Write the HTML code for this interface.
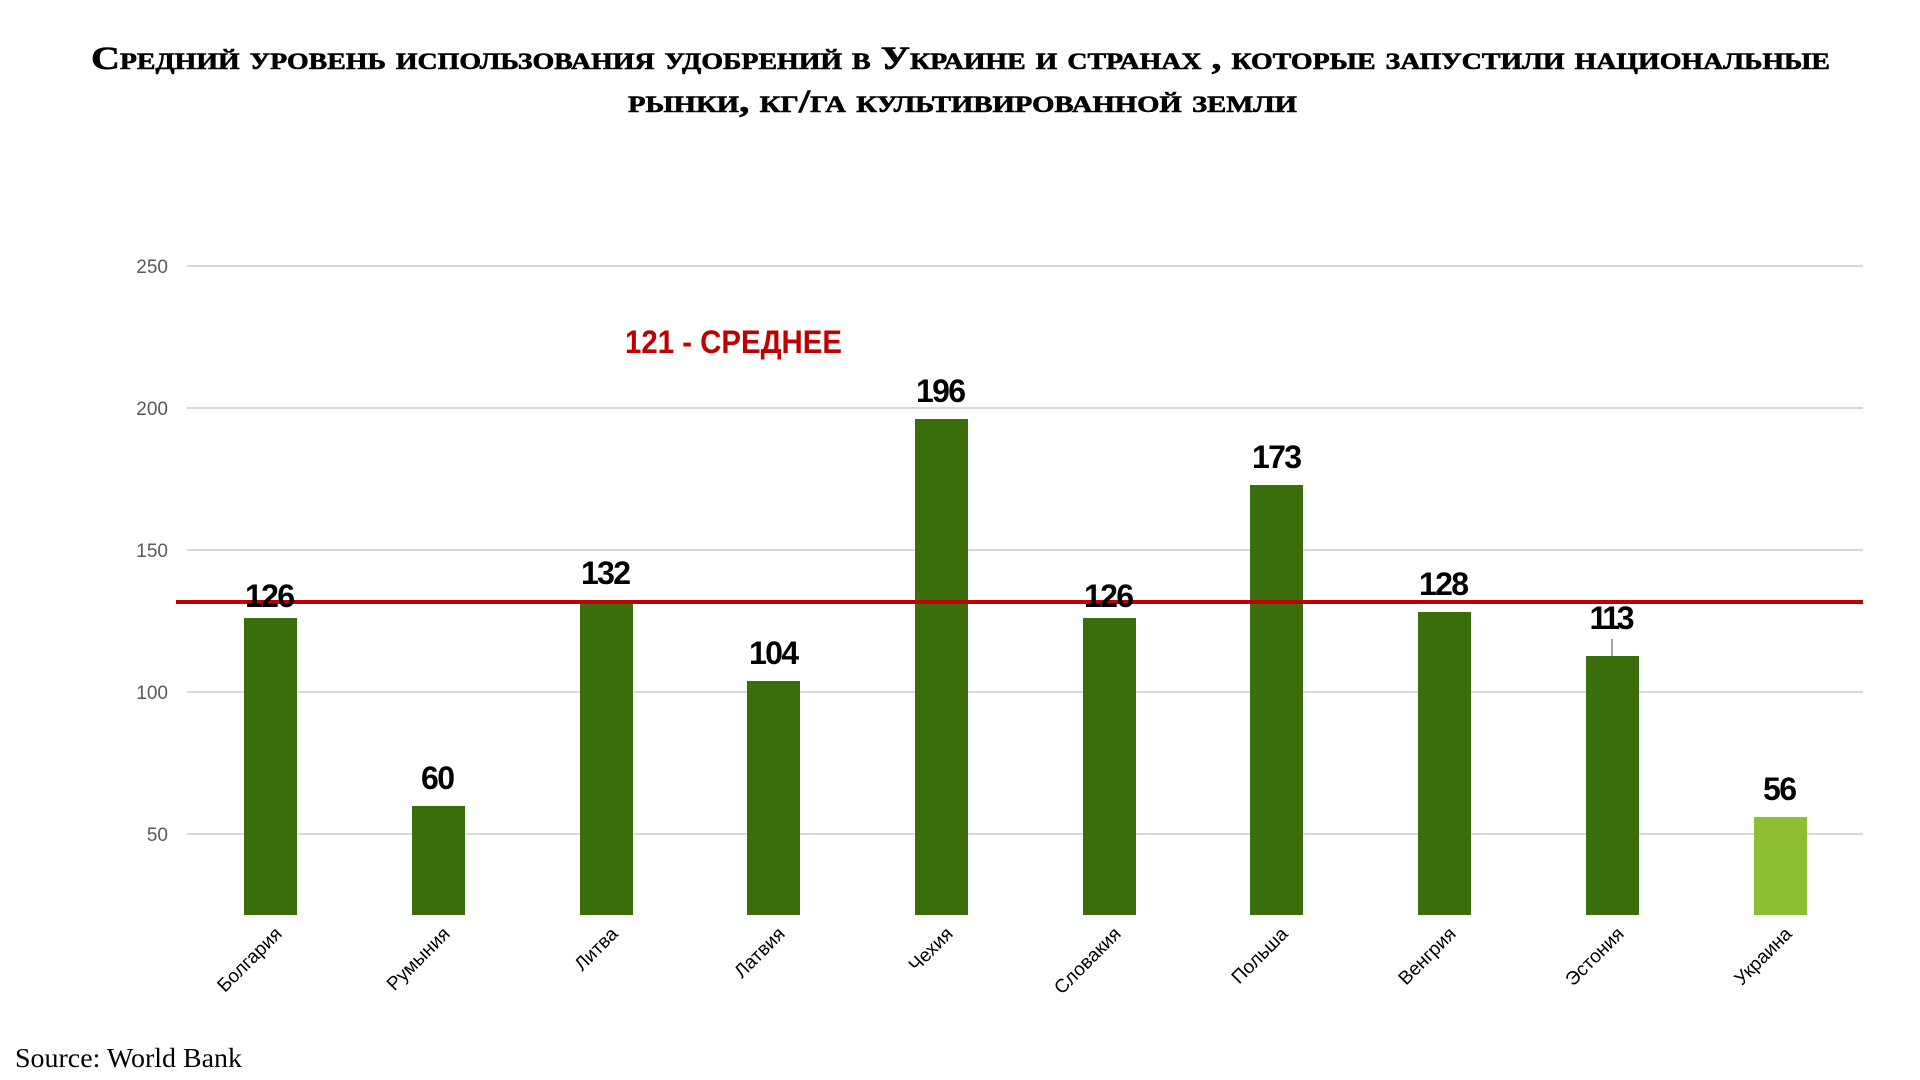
<!DOCTYPE html>
<html><head><meta charset="utf-8"><style>
html,body{margin:0;padding:0;background:#fff;width:1920px;height:1080px;overflow:hidden}
</style></head><body>
<svg width="1920" height="1080" viewBox="0 0 1920 1080" xmlns="http://www.w3.org/2000/svg">
<g font-family="Liberation Serif, serif" font-weight="bold" fill="#000" style="font-variant:small-caps" stroke="#000" stroke-width="0.6">
<text x="91" y="69" font-size="33" textLength="1739" lengthAdjust="spacingAndGlyphs">Средний уровень использования удобрений в Украине и  странах , которые запустили национальные</text>
<text x="628" y="112" font-size="33" textLength="669" lengthAdjust="spacingAndGlyphs">рынки,  кг/га культивированной земли</text>
</g>
<g stroke="#d9d9d9" stroke-width="2">
<line x1="187" y1="266" x2="1863" y2="266"/>
<line x1="187" y1="408" x2="1863" y2="408"/>
<line x1="187" y1="550" x2="1863" y2="550"/>
<line x1="187" y1="692" x2="1863" y2="692"/>
<line x1="187" y1="834" x2="1863" y2="834"/>
</g>
<g font-family="Liberation Sans, sans-serif" font-size="19" fill="#595959" text-anchor="end">
<text x="168" y="273">250</text>
<text x="168" y="415">200</text>
<text x="168" y="557">150</text>
<text x="168" y="699">100</text>
<text x="168" y="841">50</text>
</g>
<g fill="#3a6e0c">
<rect x="244" y="618" width="53" height="297"/>
<rect x="412" y="806" width="53" height="109"/>
<rect x="580" y="601" width="53" height="314"/>
<rect x="747" y="681" width="53" height="234"/>
<rect x="915" y="419" width="53" height="496"/>
<rect x="1083" y="618" width="53" height="297"/>
<rect x="1250" y="485" width="53" height="430"/>
<rect x="1418" y="612" width="53" height="303"/>
<rect x="1586" y="656" width="53" height="259"/>
</g>
<rect x="1754" y="817" width="53" height="98" fill="#8dbf35"/>
<line x1="1612" y1="639" x2="1612" y2="656" stroke="#a6a6a6" stroke-width="2"/>
<line x1="176" y1="602" x2="1863" y2="602" stroke="#c00000" stroke-width="4"/>
<text x="625" y="353" font-family="Liberation Sans, sans-serif" font-weight="bold" font-size="32" fill="#c00000" textLength="217" lengthAdjust="spacingAndGlyphs">121 - СРЕДНЕЕ</text>
<g font-family="Liberation Sans, sans-serif" font-weight="bold" font-size="32" fill="#000" text-anchor="middle" lengthAdjust="spacingAndGlyphs">
<text x="270" y="607" textLength="50">126</text>
<text x="438" y="789" textLength="34">60</text>
<text x="606" y="584" textLength="50">132</text>
<text x="774" y="664" textLength="50">104</text>
<text x="941" y="402" textLength="50">196</text>
<text x="1109" y="607" textLength="50">126</text>
<text x="1277" y="468" textLength="50">173</text>
<text x="1444" y="595" textLength="50">128</text>
<text x="1612" y="629" textLength="45">113</text>
<text x="1780" y="800" textLength="34">56</text>
</g>
<g font-family="Liberation Sans, sans-serif" font-size="19" fill="#000" text-anchor="end">
<text transform="translate(283,935) rotate(-45)">Болгария</text>
<text transform="translate(451,935) rotate(-45)">Румыния</text>
<text transform="translate(619,935) rotate(-45)">Литва</text>
<text transform="translate(786,935) rotate(-45)">Латвия</text>
<text transform="translate(954,935) rotate(-45)">Чехия</text>
<text transform="translate(1122,935) rotate(-45)">Словакия</text>
<text transform="translate(1289,935) rotate(-45)">Польша</text>
<text transform="translate(1457,935) rotate(-45)">Венгрия</text>
<text transform="translate(1625,935) rotate(-45)">Эстония</text>
<text transform="translate(1793,935) rotate(-45)">Украина</text>
</g>
<text x="15" y="1067" font-family="Liberation Serif, serif" font-size="27" fill="#000" textLength="227" lengthAdjust="spacingAndGlyphs">Source: World Bank</text>
</svg>
</body></html>
